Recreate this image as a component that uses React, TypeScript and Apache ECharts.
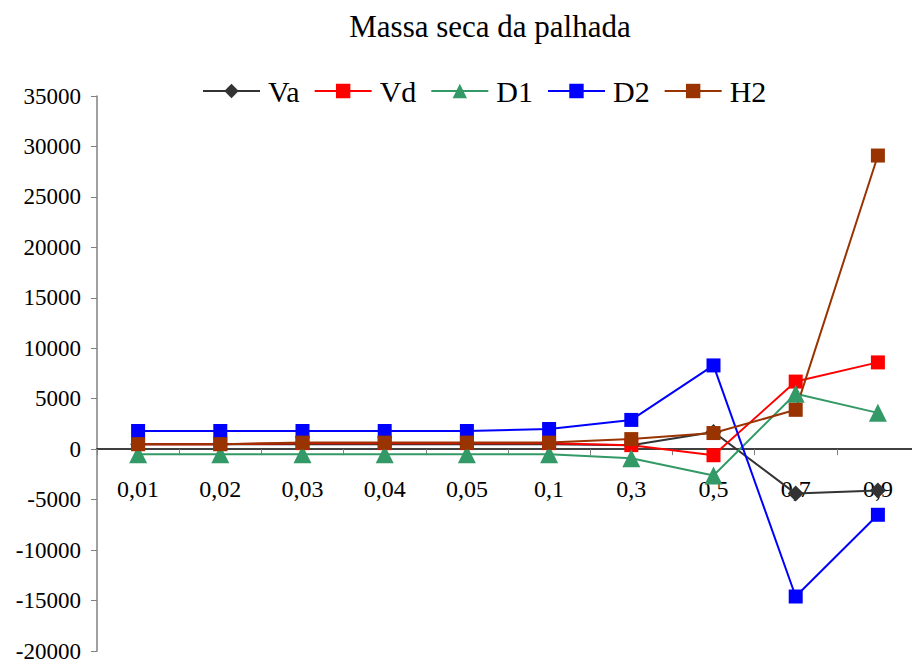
import React, { useEffect, useRef } from "react";
import * as echarts from "echarts";

const categories = ["0,01", "0,02", "0,03", "0,04", "0,05", "0,1", "0,3", "0,5", "0,7", "0,9"];
const va = [500, 500, 500, 500, 500, 500, 400, 1700, -4400, -4100];
const vd = [500, 500, 600, 600, 600, 600, 400, -600, 6700, 8600];
const d1 = [-500, -500, -500, -500, -500, -500, -900, -2600, 5500, 3600];
const d2 = [1800, 1800, 1800, 1800, 1800, 2000, 2900, 8300, -14600, -6500];
const h2 = [500, 500, 650, 650, 650, 650, 1000, 1600, 3900, 29100];
const yMin = -20000;
const yMax = 35000;

const FONT = "'Liberation Serif', 'Times New Roman', serif";

export default function App() {
  const ref = useRef<HTMLDivElement>(null);
  useEffect(() => {
    document.body.style.margin = "0";
    const chart = echarts.init(ref.current!, null, { renderer: "svg" });
    const gridTop = 96;
    const gridBottom = 13;
    const plotH = 664 - gridTop - gridBottom;
    const zeroOffset = -(plotH * (0 - yMin)) / (yMax - yMin);
    const mk = (name: string, data: number[], color: string, symbol: string, size: number) => ({
      name,
      type: "line",
      data,
      symbol,
      symbolSize: size,
      showAllSymbol: true,
      lineStyle: { color, width: 2 },
      itemStyle: { color },
    });
    chart.setOption({
      animation: false,
      title: {
        text: "Massa seca da palhada",
        left: 485,
        top: 6,
        textAlign: "center",
        textStyle: { fontFamily: FONT, fontSize: 31, fontWeight: "normal", color: "#000" },
      },
      legend: {
        top: 71,
        left: 197,
        itemWidth: 57,
        itemHeight: 18,
        itemGap: 14,
        textStyle: { fontFamily: FONT, fontSize: 30, color: "#000", padding: [0, 0, 0, 3] },
        data: ["Va", "Vd", "D1", "D2", "H2"],
      },
      grid: { left: 97, right: -7, top: gridTop, bottom: gridBottom, containLabel: false, outerBoundsMode: "none" },
      xAxis: {
        type: "category",
        data: categories,
        boundaryGap: true,
        position: "bottom",
        offset: zeroOffset,
        axisLine: { onZero: false, lineStyle: { color: "#000", width: 1.5 } },
        axisTick: { show: true, inside: false, length: 6, lineStyle: { color: "#808080" } },
        axisLabel: { margin: 28, fontFamily: FONT, fontSize: 24, color: "#000" },
        splitLine: { show: false },
      },
      yAxis: {
        type: "value",
        min: yMin,
        max: yMax,
        interval: 5000,
        axisLine: { show: true, lineStyle: { color: "#808080", width: 1.5 } },
        axisTick: { show: true, length: 6, lineStyle: { color: "#808080" } },
        axisLabel: {
          margin: 16,
          fontFamily: FONT,
          fontSize: 23,
          lineHeight: 18,
          color: "#000",
          formatter: (v: number) => String(v),
        },
        splitLine: { show: false },
      },
      series: [
        mk("Va", va, "#333333", "diamond", 16),
        mk("Vd", vd, "#ff0000", "rect", 14),
        mk("D1", d1, "#339966", "triangle", 18),
        mk("D2", d2, "#0000ff", "rect", 14),
        mk("H2", h2, "#993300", "rect", 14),
      ],
    });
    return () => chart.dispose();
  }, []);
  return <div ref={ref} style={{ width: 912, height: 664 }} />;
}
